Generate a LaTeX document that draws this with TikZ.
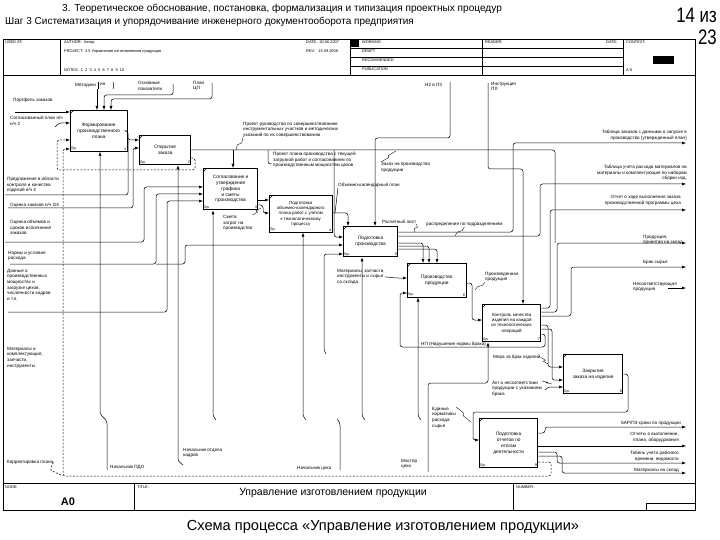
\documentclass[tikz,border=0pt]{standalone}
\usepackage{fontspec}
\setmainfont{Liberation Sans}
\usetikzlibrary{arrows.meta,calc}
\newcommand\zzlink[2]{\draw[line width=0.35pt] (#1) -- ($(#1)!0.42!(#2)+(1.6,0)$) -- ($(#1)!0.58!(#2)+(-1.6,0)$) -- (#2);}
\begin{document}
\begin{tikzpicture}[x=1pt,y=-1pt,
  lbl/.style={font=\fontsize{4.6}{5.6}\selectfont,align=left,inner sep=0pt,anchor=north west},
  lblr/.style={lbl,align=right,anchor=north east},
  hdr/.style={font=\fontsize{3.9}{4.5}\selectfont,inner sep=0pt,anchor=north west},
  box/.style={draw,line width=0.6pt,align=center,inner sep=1pt,font=\fontsize{4.8}{5.8}\selectfont,anchor=north west},
  bbox/.style={box,line width=1.3pt},
  cn/.style={line width=0.5pt,rounded corners=2.5pt},
  arr/.style={cn,-{Latex[length=4pt,width=3pt]}},
  fb/.style={dash pattern=on 2pt off 1.5pt},
  num/.style={font=\fontsize{3.8}{4}\selectfont,inner sep=1.2pt}
]
\useasboundingbox (0,0) rectangle (720,540);

% ---------- page titles ----------
\node[anchor=west,font=\fontsize{10.1}{11}\selectfont,inner sep=0] (t1) at (62,9) {3. Теоретическое обоснование, постановка, формализация и типизация проектных процедур};
\node[anchor=west,font=\fontsize{10}{11}\selectfont,inner sep=0] (t2) at (5,22) {Шаг 3 Систематизация и упорядочивание инженерного документооборота предприятия};
\node[anchor=east,font=\fontsize{21}{22}\selectfont,inner sep=0] (pg1) at (717,15) {\scalebox{0.8}[1]{14 из}};
\node[anchor=east,font=\fontsize{21}{22}\selectfont,inner sep=0] (pg2) at (717,37) {\scalebox{0.8}[1]{23}};
\node[font=\fontsize{14.6}{16}\selectfont,inner sep=0] (cap) at (383,527) {Схема процесса «Управление изготовлением продукции»};

% ---------- IDEF0 form ----------
\draw[line width=0.7pt] (3,39) rectangle (695,510);
\draw[line width=0.6pt] (3,75) -- (695,75);
\draw (60,39) -- (60,75);
\draw (350,39) -- (350,75);
\draw (482,39) -- (482,75);
\draw (623,39) -- (623,75);
\draw[line width=0.8pt] (350,48) -- (623,48);
\draw (350,57) -- (623,57);
\draw[line width=0.8pt] (350,66) -- (623,66);
\fill (350,39) rectangle (359,47);
\fill (653,56) rectangle (674,64);
\node[hdr] (h1) at (5,41) {USED AT:};
\node[hdr] (h2) at (64,41) {AUTHOR:\ \ Автор};
\node[hdr] (h3) at (64,50) {PROJECT:\ \ 3.5 Управление изготовлением продукции};
\node[hdr] (h4) at (306,41) {DATE:\ \ 20.06.2007};
\node[hdr] (h5) at (306,50) {REV:\ \ \ 15.09.2008};
\node[hdr] (h6) at (64,69) {NOTES:\ \ 1\ \ 2\ \ 3\ \ 4\ \ 5\ \ 6\ \ 7\ \ 8\ \ 9\ \ 10};
\node[hdr] (h7) at (362,41) {WORKING};
\node[hdr] (h8) at (362,50) {DRAFT};
\node[hdr] (h9) at (362,59) {RECOMMENDED};
\node[hdr] (h10) at (362,68) {PUBLICATION};
\node[hdr] (h11) at (485,41) {READER:};
\node[hdr] (h12) at (606,41) {DATE:};
\node[hdr] (h13) at (626,41) {CONTEXT:};
\node[hdr] (h14) at (626,69) {A-0};

\draw[line width=0.6pt] (3,483) -- (695,483);
\draw (134,483) -- (134,510);
\draw (513,483) -- (513,510);
\draw (646,510) -- (646,503) -- (695,503);
\node[hdr] (n1) at (5,486) {NODE:};
\node[hdr] (n2) at (137,486) {TITLE:};
\node[hdr] (n3) at (516,486) {NUMBER:};
\node[font=\fontsize{11}{12}\selectfont\bfseries,inner sep=0] (n4) at (68,502) {A0};
\node[font=\fontsize{10.5}{12}\selectfont,inner sep=0] (n5) at (333,493) {Управление изготовлением продукции};

% ---------- activity boxes ----------
\node[box,minimum width=57,minimum height=41] (b1) at (70,110) {Формирование\\производственного\\плана};
\node[bbox,minimum width=51,minimum height=29] (b2) at (139,135) {Открытие\\заказа};
\node[bbox,minimum width=54,minimum height=41] (b3) at (203,168) {Согласование и\\утверждение\\графика\\и сметы\\производства};
\node[box,minimum width=63,minimum height=37,font=\fontsize{4.4}{5.2}\selectfont] (b4) at (269,195) {Подготовка\\объемно-календарного\\плана работ с учетом\\к технологическому\\процессу};
\node[bbox,minimum width=54,minimum height=30] (b5) at (343,226) {Подготовка\\производства};
\node[box,minimum width=59,minimum height=34] (b6) at (407,263) {Производство\\продукции};
\node[bbox,minimum width=58,minimum height=37,font=\fontsize{4.5}{5.4}\selectfont] (b7) at (482,304) {Контроль качества\\изделия на каждой\\из технологических\\операций};
\node[bbox,minimum width=59,minimum height=39] (b8) at (563,354) {Закрытие\\заказа на изделие};
\node[bbox,minimum width=58,minimum height=49] (b9) at (479,418) {Подготовка\\отчетов по\\итогам\\деятельности};
\foreach \b/\n in {b1/1,b2/2,b3/3,b4/4,b5/5,b6/6,b7/7,b8/8,b9/9}{
  \node[num,anchor=south west] at (\b.south west) {0р.};
  \node[num,anchor=south east] at (\b.south east) {\n};
  \draw[line width=0.5pt] ([yshift=-4pt]\b.north west) -- ([xshift=4pt]\b.north west);
}

% ---------- left labels ----------
\node[lbl] (la1) at (13,98) {Портфель заказов};
\node[lbl] (la2) at (10,116) {Согласованный план н/ч\\н/ч 2};
\node[lbl] (la3) at (7,177) {Предложения в области\\контроля и качества\\изделий н/ч 4};
\node[lbl] (la4) at (10,203) {Оценка заказов н/ч 2/4};
\node[lbl] (la5) at (10,220) {Оценка объемов и\\сроков исполнения\\заказов};
\node[lbl] (la6) at (8,251) {Нормы и условия\\расхода};
\node[lbl] (la7) at (7,269) {Данные о\\производственных\\мощностях и\\загрузке цехов,\\численности кадров\\и т.п.};
\node[lbl] (la8) at (7,347) {Материалы и\\комплектующие,\\запчасти,\\инструменты};
\node[lbl] (la9) at (7,460) {Корректировка плана};

% ---------- top labels ----------
\node[lbl] (lt1) at (75,83) {Методики};
\node[lbl] (lt1b) at (100,83) {ин};
\node[lbl] (lt2) at (138,81) {Основные\\показатели};
\node[lbl] (lt3) at (193,81) {План\\ЦП};
\node[lbl] (lt4) at (425,83) {Н2 в П3};
\node[lbl] (lt5) at (491,82) {Инструкция\\ПЛ};

% ---------- middle labels ----------
\node[lbl] (lm1) at (243,122) {Проект руководства по совершенствованию\\инструментальных участков и методических\\указаний по их совершенствованию};
\node[lbl] (lm2) at (273,152) {Проект плана производства с текущей\\загрузкой работ и согласованием по\\производственным мощностям цехов};
\node[lbl] (lm3) at (381,162) {Заказ на производство\\продукции};
\node[lbl] (lm4) at (338,183) {Объемно-календарный план};
\node[lbl] (lm5) at (382,220) {Расчетный лист};
\node[lbl] (lm6) at (426,223) {распределение по подразделениям};
\node[lbl] (lm7) at (223,215) {Смета\\затрат на\\производство};
\node[lbl] (lm8) at (337,269) {Материалы, запчасти,\\инструменты и сырье\\со склада};
\node[lbl] (lm9) at (485,272) {Произведенная\\продукция};
\node[lbl] (lm10) at (421,342) {НП (Нарушение нормы брака)};
\node[lbl] (lm11) at (493,355) {Мера за брак изделий};
\node[lbl] (lm12) at (492,381) {Акт о несоответствии\\продукции с указанием\\брака};
\node[lbl] (lm13) at (432,407) {Единые\\нормативы\\расхода\\сырья};

% ---------- bottom labels ----------
\node[lbl] (lb1) at (110,465) {Начальник ПДО};
\node[lbl] (lb2) at (183,448) {Начальник отдела\\кадров};
\node[lbl] (lb3) at (297,466) {Начальник цеха};
\node[lbl] (lb4) at (401,459) {Мастер\\цеха};

% ---------- right labels ----------
\node[lblr] (lr1) at (687,130) {Таблица заказов с данными о запуске в\\производство (утвержденный план)};
\node[lblr] (lr2) at (687,165) {Таблица учета расхода материалов на\\материалы и комплектующие по наборам\\сборки изд.};
\node[lblr] (lr3) at (681,195) {Отчет о ходе выполнения заказа\\производственной программы цеха};
\node[lbl] (lr4) at (643,235) {Продукция,\\принятая на склад};
\node[lbl] (lr5) at (643,260) {Брак сырья};
\node[lbl] (lr6) at (633,282) {Несоответствующая\\продукция};
\node[lblr] (lr7) at (681,421) {SAP/ПЗ-сроки по продукции};
\node[lblr] (lr8) at (679,432) {Отчеты о выполнении,\\плана, оборудования};
\node[lblr] (lr9) at (679,451) {Табель учета рабочего\\времени, ведомости};
\node[lblr] (lr10) at (679,468) {Материалы на склад};

% ---------- free-end coordinates ----------
\coordinate (o1) at (686,143);
\coordinate (o2) at (686,184);
\coordinate (o3) at (686,210);
\coordinate (o4) at (686,243);
\coordinate (o5) at (686,267);
\coordinate (o6) at (686,288);
\coordinate (o7) at (686,427);
\coordinate (o8) at (686,446);
\coordinate (o9) at (686,463);
\coordinate (o10) at (686,473);

% ---------- inputs from left ----------
\draw[arr] (15,112) -- (b1.west |- 0,112);
\draw[arr] (55,127) -- (59,123) -- (b1.west |- 0,123);
\draw[arr,fb] (b2.east |- 0,158) -- (195,158) -- (195,170) -- (57,170) -- (57,140) -- (b1.west |- 0,140);
\draw[arr,fb] (b9.east |- 0,462) -- (551,462) -- (551,476) -- (63,476) -- (63,149) -- (b1.west |- 0,149);
\draw[cn,fb] (la9.east) -- (50,470) -- (63,476);
\draw[arr] (b1.east |- 0,131) -- (128,131) -- (128,140) -- (b2.west |- 0,140);
\draw[cn] (5,195) -- (128,195) -- (128,140);
\draw[arr] (8,208) -- (133,208) -- (133,148) -- (b2.west |- 0,148);
\draw[arr] (5,242) -- (144,242) -- (144,187) -- (b3.west |- 0,187);
\draw[arr] (10,264) -- (156,264) -- (156,194) -- (b3.west |- 0,194);
\draw[arr] (156,264) -- (185,264) -- (185,245) -- (b5.west |- 0,245);
\draw[arr] (8,312) -- (167,312) -- (167,201) -- (b3.west |- 0,201);
\draw[arr] (326,354) -- (324,350) -- (324,254) -- (b5.west |- 0,254);

% ---------- controls from top ----------
\draw[arr] (97,89) -- (b1.north -| 97,0);
\draw[cn] (98,82) -- (98,89); \draw[cn] (113,82) -- (114,85) -- (113,89);
\draw[arr] (173,84) -- (173,95) -- (104,95) -- (b1.north -| 104,0);
\draw[arr] (212,83) -- (212,99) -- (111,99) -- (b1.north -| 111,0);
\draw[arr] (450,82) -- (450,138) -- (375,138) -- (b5.north -| 375,0);
\draw[arr] (488,83) -- (488,169) -- (523,169) -- (b7.north -| 523,0);

% ---------- open order line ----------
\draw[cn] (b2.east |- 0,150) -- (555,150) -- (555,243);
\draw[arr] (233,150) -- (b3.north -| 233,0);
\draw[arr] (334,150) -- (334,237) -- (b5.west |- 0,237);
\draw[cn] (268,150) -- (268,164) -- (272,164);
\zzlink{lm1.south west}{236,150}
\zzlink{lm3.north west}{396,151}

% ---------- internal flows ----------
\draw[arr] (b3.east |- 0,200) -- (b4.west |- 0,200);
\draw[arr] (b3.east |- 0,205) -- (263,205) -- (263,213) -- (b4.west |- 0,213);
\zzlink{lm7.north east}{261,208}
\draw[arr] (b4.east |- 0,213) -- (348,213) -- (b5.north -| 348,0);
\draw[cn] (lm4.south west) -- (335,213);

\draw[arr] (b5.east |- 0,243) -- (423,243) -- (b6.north -| 423,0);
\draw[arr] (b5.east |- 0,246) -- (429,246) -- (b6.north -| 429,0);
\draw[arr] (b5.east |- 0,249) -- (437,249) -- (b6.north -| 437,0);
\draw[arr] (b5.east |- 0,232) -- (513,232) -- (513,143) -- (o1);
\draw[arr] (b5.east |- 0,236) -- (540,236) -- (540,184) -- (o2);
\zzlink{lm5.south east}{415,232}
\zzlink{lm6.south}{455,236}

\draw[arr] (b6.east |- 0,283) -- (472,283) -- (472,320) -- (b7.west |- 0,320);
\zzlink{lm9.south west}{475,290}
\draw[arr] (b7.east |- 0,334) -- (545,334) -- (545,347) -- (400,347) -- (400,293) -- (b6.west |- 0,293);
\draw[arr] (lm8.east) -- (396,278) -- (b6.west |- 0,278);

\draw[arr] (b7.east |- 0,308) -- (550,308) -- (550,210) -- (o3);
\draw[arr] (b7.east |- 0,312) -- (557,312) -- (557,243) -- (o4);
\draw[arr] (b7.east |- 0,316) -- (571,316) -- (571,267) -- (o5);
\draw[arr] (668,288) -- (o6);

\draw[arr] (b7.east |- 0,325) -- (548,325) -- (548,367) -- (b8.west |- 0,367);
\draw[arr] (b7.east |- 0,329) -- (552,329) -- (552,380) -- (b8.west |- 0,380);
\draw[arr] (545,390) -- (548,387) -- (b8.west |- 0,387);
\zzlink{lm11.east}{548,364}
\zzlink{lm12.north east}{552,384}

\draw[arr] (b8.east |- 0,374) -- (628,374) -- (628,412) -- (473,412) -- (473,440) -- (b9.west |- 0,440);
\zzlink{lm13.north east}{471,422}

\draw[arr] (b9.east |- 0,433) -- (545,433) -- (545,427) -- (o7);
\draw[arr] (b9.east |- 0,446) -- (o8);
\draw[arr] (b9.east |- 0,452) -- (557,452) -- (557,463) -- (o9);
\draw[arr] (b9.east |- 0,456) -- (562,456) -- (562,473) -- (o10);

% ---------- mechanisms ----------
\draw[arr] (107,470) -- (107,421) -- (100,414) -- (b1.south -| 100,0);
\draw[arr] (183,465) -- (178,461) -- (b2.south -| 178,0);
\draw[arr] (216,420) -- (213,416) -- (b3.south -| 213,0);
\draw[arr] (306,420) -- (303,416) -- (b4.south -| 303,0);
\draw[cn] (340,470) -- (340,423) -- (337,419);
\draw[arr] (365,420) -- (362,416) -- (b5.south -| 362,0);
\draw[arr] (421,420) -- (418,416) -- (b6.south -| 418,0);
\draw[arr] (428,472) -- (428,383) -- (488,383) -- (b7.south -| 488,0);
\end{tikzpicture}
\end{document}
